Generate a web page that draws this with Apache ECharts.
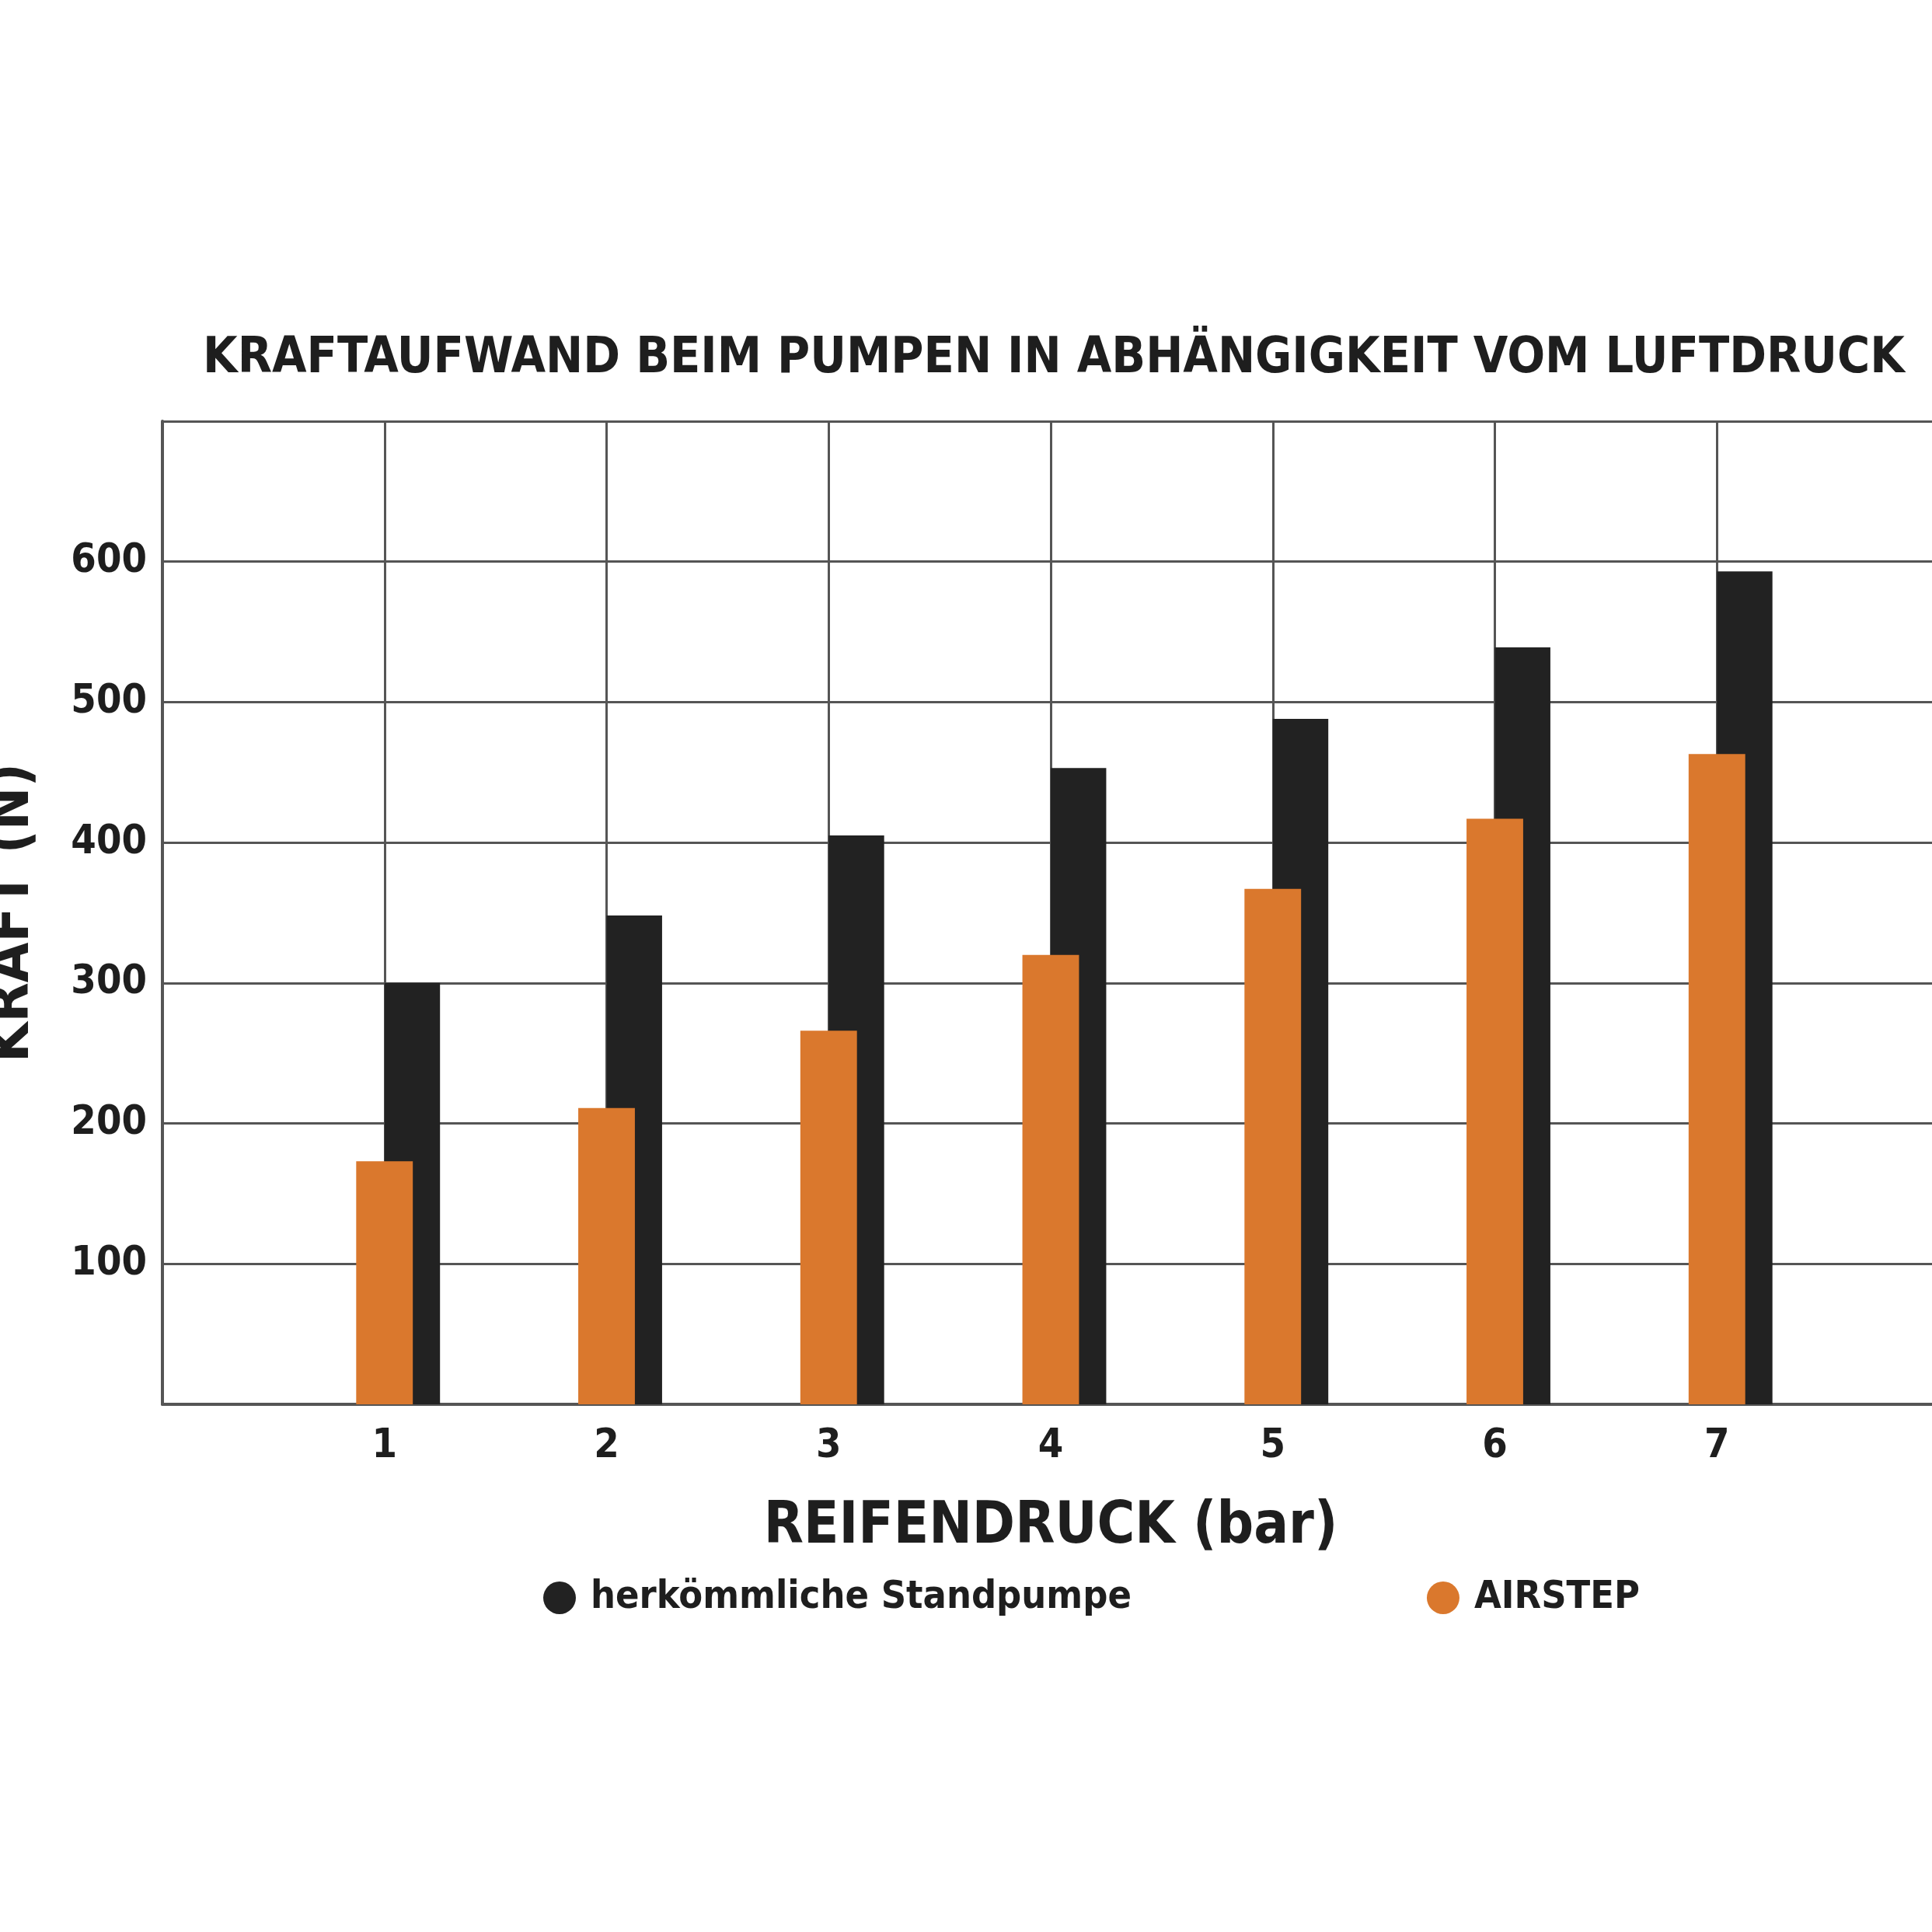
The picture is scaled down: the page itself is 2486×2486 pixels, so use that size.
<!DOCTYPE html>
<html><head><meta charset="utf-8">
<script src="https://cdn.jsdelivr.net/npm/echarts@6/dist/echarts.min.js"></script>
<style>html,body{margin:0;padding:0;background:#fff}#c{width:2486px;height:2486px}</style>
</head><body><div id="c"></div>
<script>
const categories = [1, 2, 3, 4, 5, 6, 7];
const standpumpe = [300, 348, 405, 453, 488, 539, 593];
const airstep = [173, 211, 266, 320, 367, 417, 463];
const yTicks = [100, 200, 300, 400, 500, 600];
const FONT = '"DejaVu Sans Condensed", "Liberation Sans Narrow", sans-serif';
const chart = echarts.init(document.getElementById('c'));
function barRenderer(offset, widthU, color) {
  return function (params, api) {
    const x = api.value(0), y = api.value(1);
    const p0 = api.coord([x + offset - widthU / 2, y]);
    const p1 = api.coord([x + offset + widthU / 2, 0]);
    return { type: 'rect', shape: { x: p0[0], y: p0[1], width: p1[0] - p0[0], height: p1[1] - p0[1] }, style: { fill: color } };
  };
}
chart.setOption({
  backgroundColor: '#fff',
  title: { text: 'KRAFTAUFWAND BEIM PUMPEN IN ABHÄNGIGKEIT VOM LUFTDRUCK', left: 1351, textAlign: 'center', top: 425,
    textStyle: { fontFamily: FONT, fontWeight: 'bold', fontSize: 64, color: '#1e1e1e' } },
  legend: { left: 694, top: 2026, itemGap: 380, itemWidth: 42, itemHeight: 42,
    textStyle: { fontFamily: FONT, fontWeight: 'bold', fontSize: 50, color: '#1e1e1e', padding: [0, 0, 0, 14] },
    data: [{ name: 'herkömmliche Standpumpe', icon: 'circle' }, { name: 'AIRSTEP', icon: 'circle' }] },
  grid: { left: 209, top: 542, width: 2286, height: 1265, outerBoundsMode: 'none', containLabel: false },
  xAxis: { type: 'value', min: 0, max: 8, interval: 1,
    name: 'REIFENDRUCK (bar)', nameLocation: 'middle', nameGap: 122,
    nameTextStyle: { fontFamily: FONT, fontWeight: 'bold', fontSize: 74, color: '#1e1e1e' },
    axisLine: { lineStyle: { color: '#555', width: 4 } }, axisTick: { show: false },
    axisLabel: { margin: 28, fontFamily: FONT, fontWeight: 'bold', fontSize: 52, color: '#1e1e1e',
      formatter: v => categories.includes(v) ? String(v) : '' },
    splitLine: { show: true, lineStyle: { color: '#555', width: 3 } } },
  yAxis: { type: 'value', min: 0, max: 700, interval: 100,
    name: 'KRAFT (N)', nameLocation: 'middle', nameGap: 155, nameRotate: 90,
    nameTextStyle: { fontFamily: FONT, fontWeight: 'bold', fontSize: 74, color: '#1e1e1e' },
    axisLine: { show: true, lineStyle: { color: '#555', width: 4 } }, axisTick: { show: false },
    axisLabel: { margin: 20, fontFamily: FONT, fontWeight: 'bold', fontSize: 52, color: '#1e1e1e',
      formatter: v => yTicks.includes(v) ? String(v) : '' },
    splitLine: { show: true, lineStyle: { color: '#555', width: 3 } } },
  series: [
    { name: 'herkömmliche Standpumpe', type: 'custom', color: '#222222', renderItem: barRenderer(0.125, 0.25, '#222222'),
      encode: { x: 0, y: 1 }, data: categories.map((c, i) => [c, standpumpe[i]]), z: 2 },
    { name: 'AIRSTEP', type: 'custom', color: '#da782d', renderItem: barRenderer(0, 0.255, '#da782d'),
      encode: { x: 0, y: 1 }, data: categories.map((c, i) => [c, airstep[i]]), z: 3 }
  ]
});
</script></body></html>
